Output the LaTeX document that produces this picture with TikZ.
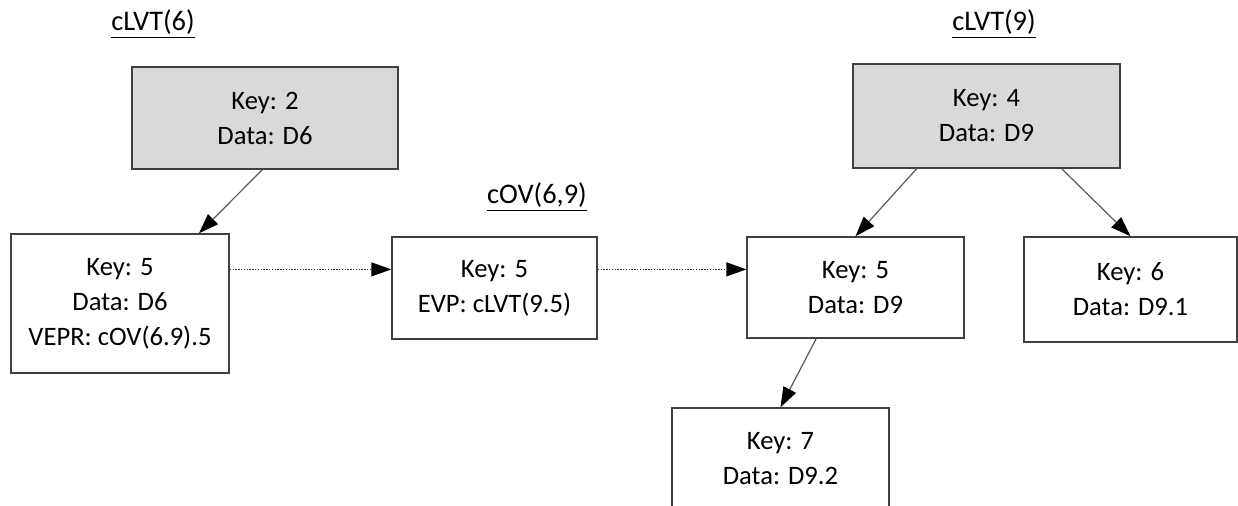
\documentclass[tikz,border=0pt]{standalone}
\usepackage{fontspec}
\setmainfont{Carlito}
\usetikzlibrary{calc,arrows.meta}

\begin{document}
\begin{tikzpicture}[x=0.5pt,y=-0.5pt,
    box/.style={draw=black!75,line width=0.7pt,fill=white,align=center,inner sep=0pt,
        font=\fontsize{13.3}{17.5}\selectfont},
    root/.style={box,fill=black!15},
    title/.style={anchor=base,inner sep=0pt,font=\fontsize{14.2}{16}\selectfont},
    child/.style={draw=black!65,line width=0.6pt,-{Triangle[length=10pt,width=7pt,color=black]}},
    ptr/.style={child,draw=black!80,line width=0.7pt,dash pattern=on 0.7pt off 0.7pt}]
    \useasboundingbox (0,0) rectangle (1238,506);
    \clip (0,0) rectangle (1238,506);

    % tree titles
    \node[title] (tl6) at (153,31) {\underline{cLVT(6)}};
    \node[title] (tov) at (537,204) {\underline{cOV(6,9)}};
    \node[title] (tl9) at (994,31) {\underline{cLVT(9)}};

    % cLVT(6)
    \node[root,minimum width=133pt,minimum height=51pt] (r6) at (265,118) {Key: 2\\Data: D6};
    \node[box,minimum width=109pt,minimum height=69.5pt] (n6) at (120,303.5) {Key: 5\\Data: D6\\VEPR: cOV(6.9).5};

    % cOV(6,9)
    \node[box,minimum width=102.5pt,minimum height=51pt] (ov) at (494.5,288) {Key: 5\\EVP: cLVT(9.5)};

    % cLVT(9)
    \node[root,minimum width=133.5pt,minimum height=52pt] (r9) at (986.5,116) {Key: 4\\Data: D9};
    \node[box,minimum width=108.5pt,minimum height=50.5pt] (n9) at (855.5,287.5) {Key: 5\\Data: D9};
    \node[box,minimum width=106.5pt,minimum height=52.5pt] (n91) at (1130.5,289.5) {Key: 6\\Data: D9.1};
    \node[box,minimum width=108.5pt,minimum height=51pt] (n92) at (780.5,459) {Key: 7\\Data: D9.2};

    \draw[child] ($(r6.south west)!0.49!(r6.south east)$) -- ($(n6.north west)!0.86!(n6.north east)$);
    \draw[child] ($(r9.south west)!0.24!(r9.south east)$) -- (n9.north);
    \draw[child] ($(r9.south west)!0.78!(r9.south east)$) -- (n91.north);
    \draw[child] ($(n9.south west)!0.32!(n9.south east)$) -- (n92.north);

    \coordinate (cin) at ($(ov.north west)!0.32!(ov.south west)$);
    \draw[ptr] (n6.east |- cin) -- (cin);
    \draw[ptr] (ov.east |- cin) -- (n9.west |- cin);
\end{tikzpicture}
\end{document}
